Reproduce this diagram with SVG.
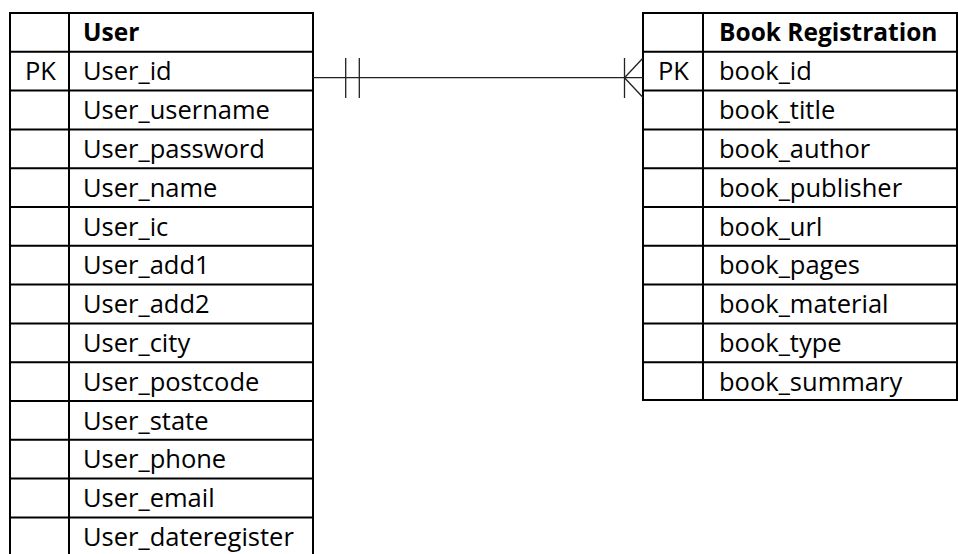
<svg xmlns="http://www.w3.org/2000/svg" width="958" height="554" viewBox="0 0 958 554">
<style>
.grid{fill:none;stroke:#000;stroke-width:2}
.t{font-family:"Open Sans","Liberation Sans",sans-serif;font-size:25.5px;fill:#000}
.h{font-family:"Open Sans","Liberation Sans",sans-serif;font-size:24.5px;font-weight:bold;fill:#000}
.c{fill:none;stroke:#222;stroke-width:1.3}
</style>
<rect width="958" height="554" fill="#fff"/>
<g id="user">
<rect class="grid" x="10" y="13" width="303" height="545"/>
<path class="grid" d="M69 13V558M10 51.8H313M10 90.6H313M10 129.4H313M10 168.2H313M10 207H313M10 245.8H313M10 284.6H313M10 323.4H313M10 362.2H313M10 401H313M10 439.8H313M10 478.6H313M10 517.4H313"/>
<text class="h" x="83" y="40.5">User</text>
<text class="t" x="25" y="80.3">PK</text>
<text class="t" x="83" y="80.3">User_id</text>
<text class="t" x="83" y="119.1">User_username</text>
<text class="t" x="83" y="157.9">User_password</text>
<text class="t" x="83" y="196.7">User_name</text>
<text class="t" x="83" y="235.5">User_ic</text>
<text class="t" x="83" y="274.3">User_add1</text>
<text class="t" x="83" y="313.1">User_add2</text>
<text class="t" x="83" y="351.9">User_city</text>
<text class="t" x="83" y="390.7">User_postcode</text>
<text class="t" x="83" y="429.5">User_state</text>
<text class="t" x="83" y="468.3">User_phone</text>
<text class="t" x="83" y="507.1">User_email</text>
<text class="t" x="83" y="545.9">User_dateregister</text>
</g>
<g id="book">
<rect class="grid" x="643" y="13" width="314" height="387"/>
<path class="grid" d="M703 13V400M643 51.8H957M643 90.6H957M643 129.4H957M643 168.2H957M643 207H957M643 245.8H957M643 284.6H957M643 323.4H957M643 362.2H957"/>
<text class="h" x="719" y="40.5">Book Registration</text>
<text class="t" x="658" y="80.3">PK</text>
<text class="t" x="719" y="80.3">book_id</text>
<text class="t" x="719" y="119.1">book_title</text>
<text class="t" x="719" y="157.9">book_author</text>
<text class="t" x="719" y="196.7">book_publisher</text>
<text class="t" x="719" y="235.5">book_url</text>
<text class="t" x="719" y="274.3">book_pages</text>
<text class="t" x="719" y="313.1">book_material</text>
<text class="t" x="719" y="351.9">book_type</text>
<text class="t" x="719" y="390.7">book_summary</text>
</g>
<g id="connectors">
<path class="c" d="M313 77.7H643"/>
<path class="c" d="M345.7 58V98M359.3 58V98"/>
<path class="c" d="M624.5 58V98M624.5 77.7L643 58M624.5 77.7L643 97.5"/>
</g>
</svg>
